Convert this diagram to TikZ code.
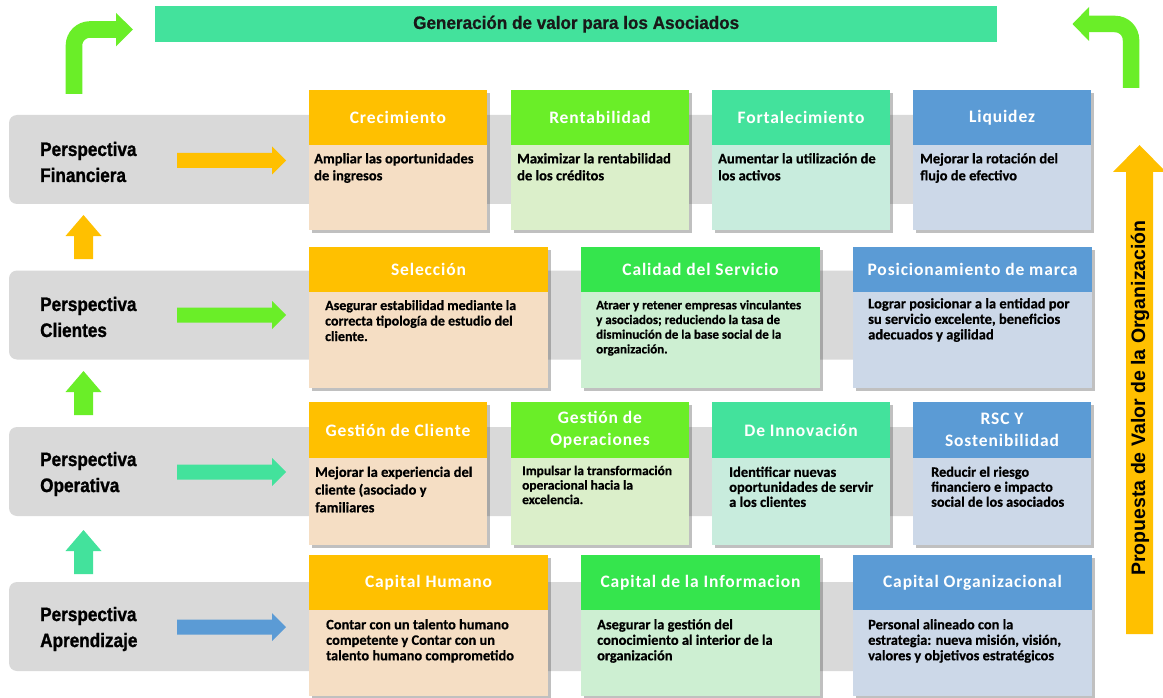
\documentclass[tikz,border=0pt]{standalone}
\usepackage{fontspec}
\setmainfont{Carlito}
\newfontfamily\cardfont[LetterSpace=5]{Carlito}
\newfontfamily\bodyfont[FakeBold=0.6]{Carlito}
\newfontfamily\persfont[FakeStretch=0.88, FakeBold=1.2]{Liberation Sans}
\newfontfamily\bannerfont[FakeStretch=0.95, FakeBold=0.8]{Liberation Sans}
\newfontfamily\arialfont{Liberation Sans}
\usetikzlibrary{shadows}

\definecolor{cYel}{HTML}{FFC000}
\definecolor{cLime}{HTML}{6AEE28}
\definecolor{cGrn}{HTML}{35E54D}
\definecolor{cTeal}{HTML}{43E29C}
\definecolor{cBlue}{HTML}{5B9BD5}
\definecolor{bPeach}{HTML}{F5DEC4}
\definecolor{bLime}{HTML}{DBEFCA}
\definecolor{bGrn}{HTML}{CDEFD2}
\definecolor{bTeal}{HTML}{C8ECDD}
\definecolor{bBlue}{HTML}{CCD8E8}
\definecolor{bandgray}{HTML}{D9D9D9}

\tikzset{
  bandbox/.style={fill=bandgray, rounded corners=8, anchor=north west,
    inner sep=0, outer sep=0, minimum width=1079, minimum height=89},
  persp/.style={anchor=west, align=left, inner sep=0,
    font={\fontsize{19.5}{26}\persfont\bfseries}, text=black},
  cardframe/.style={anchor=north west, inner sep=0, outer sep=0,
    drop shadow={shadow xshift=2.5pt, shadow yshift=-3pt, opacity=.35, fill=black!70}},
  cardhead/.style={anchor=north west, inner sep=0, outer sep=0, text=white,
    align=center, font={\fontsize{17.5}{22}\cardfont\bfseries}},
  desc/.style 2 args={anchor=north west, inner sep=0, align=left, text=black,
    font={\fontsize{#1}{#2}\bodyfont\bfseries}},
}

% card: name, x, top, width, header height, total height, header colour, body colour, title
\newcommand\card[9]{%
  \node[cardframe, fill=#8, minimum width=#4, minimum height=#6] (#1) at (#2,#3) {};
  \node[cardhead, fill=#7, minimum width=#4, minimum height=#5] (#1h) at (#2,#3) {#9};
}
% horizontal block arrow in a perspective band, centred on y=#2
\newcommand\rowarrow[2]{%
  \fill[#1] (177,{#2-7.5}) -- (272,{#2-7.5}) -- (272,{#2-14}) -- (286,#2)
    -- (272,{#2+14}) -- (272,{#2+7.5}) -- (177,{#2+7.5}) -- cycle;
}
% upward block arrow between bands, tip at y=#2
\newcommand\uparw[2]{%
  \fill[#1] (74,{#2+44}) -- (74,{#2+21}) -- (65.5,{#2+21}) -- (83.5,#2)
    -- (101.5,{#2+21}) -- (93,{#2+21}) -- (93,{#2+44}) -- cycle;
}

\begin{document}
\begin{tikzpicture}[x=1pt, y=-1pt]
\useasboundingbox[fill=white] (0,0) rectangle (1163,698);

% top banner
\node[fill=cTeal, anchor=north west, inner sep=0, minimum width=842, minimum height=36,
  font={\fontsize{18}{20}\bannerfont\bfseries}, text=black!90] (top) at (155,6)
  {Generación de valor para los Asociados};

% bent arrows towards the banner
\coordinate (la0) at (74,94);
\coordinate (la1) at (74,29.5);
\coordinate (la2) at (117,29.5);
\draw[line width=16.6, cLime, rounded corners=16] (la0) -- (la1) -- (la2);
\fill[cLime] (116,13) -- (133,29.5) -- (116,46.5) -- cycle;
\coordinate (ra0) at (1131,88);
\coordinate (ra1) at (1131,24);
\coordinate (ra2) at (1088,24);
\draw[line width=16.5, cLime, rounded corners=16] (ra0) -- (ra1) -- (ra2);
\fill[cLime] (1089,7) -- (1072.5,24) -- (1089,41) -- cycle;

% perspective bands
\node[bandbox] (p1) at (9,115) {};
\node[bandbox] (p2) at (9,270.5) {};
\node[bandbox] (p3) at (9,427) {};
\node[bandbox] (p4) at (9,582) {};

\node[persp] (l1) at (40,162) {Perspectiva\\Financiera};
\node[persp] (l2) at (40,317) {Perspectiva\\Clientes};
\node[persp] (l3) at (40,474) {Perspectiva\\Operativa};
\node[persp] (l4) at (40,629) {Perspectiva\\Aprendizaje};

\rowarrow{cYel}{160.5}
\rowarrow{cLime}{315}
\rowarrow{cTeal}{472}
\rowarrow{cBlue}{627}

\uparw{cYel}{215}
\uparw{cLime}{371}
\uparw{cTeal}{530}

% value proposition arrow
\fill[cYel] (1126,634) -- (1126,172) -- (1113,172) -- (1139.5,145) -- (1166,172)
  -- (1153,172) -- (1153,634) -- cycle;
\node[rotate=90, inner sep=0, font={\fontsize{19.5}{22}\arialfont\bfseries}, text=black]
  (vp) at (1140,398) {Propuesta de Valor de la Organización};

% financial perspective
\card{c11}{309}{90}{178}{55}{140}{cYel}{bPeach}{Crecimiento}
\card{c12}{511}{90}{178}{55}{140}{cLime}{bLime}{Rentabilidad}
\card{c13}{712}{90}{178}{55}{140}{cTeal}{bTeal}{Fortalecimiento}
\card{c14}{913}{90}{178}{55}{140}{cBlue}{bBlue}{Liquidez}
\node[desc={14.5}{17}] (t11) at (314,153) {Ampliar las oportunidades\\de ingresos};
\node[desc={14.5}{17}] (t12) at (517,153) {Maximizar la rentabilidad\\de los créditos};
\node[desc={14.5}{17}] (t13) at (718,153) {Aumentar la utilización de\\los activos};
\node[desc={14.5}{17}] (t14) at (920,153) {Mejorar la rotación del\\flujo de efectivo};

% customer perspective
\card{c21}{309}{247}{239}{45}{141}{cYel}{bPeach}{Selección}
\card{c22}{581}{247}{239}{45}{141}{cGrn}{bGrn}{Calidad del Servicio}
\card{c23}{853}{247}{239}{45}{141}{cBlue}{bBlue}{Posicionamiento de marca}
\node[desc={14}{15.5}] (t21) at (325,300) {Asegurar estabilidad mediante la\\correcta tipología de estudio del\\cliente.};
\node[desc={13}{14.7}] (t22) at (596,300) {Atraer y retener empresas vinculantes\\y asociados; reduciendo la tasa de\\disminución de la base social de la\\organización.};
\node[desc={14.5}{15.5}] (t23) at (868,298) {Lograr posicionar a la entidad por\\su servicio excelente, beneficios\\adecuados y agilidad};

% operational perspective
\card{c31}{309}{402}{178}{56}{143}{cYel}{bPeach}{Gestión de Cliente}
\card{c32}{511}{402}{178}{56}{143}{cLime}{bLime}{Gestión de\\Operaciones}
\card{c33}{712}{402}{178}{56}{143}{cTeal}{bTeal}{De Innovación}
\card{c34}{913}{402}{178}{56}{143}{cBlue}{bBlue}{RSC Y\\Sostenibilidad}
\node[desc={14.5}{17.7}] (t31) at (315,466.5) {Mejorar la experiencia del\\cliente (asociado y\\familiares};
\node[desc={13.4}{14.5}] (t32) at (522,465.5) {Impulsar la transformación\\operacional hacia la\\excelencia.};
\node[desc={14.5}{15}] (t33) at (729,466.5) {Identificar nuevas\\oportunidades de servir\\a los clientes};
\node[desc={14.3}{15}] (t34) at (931,466.5) {Reducir el riesgo\\financiero e impacto\\social de los asociados};

% learning perspective
\card{c41}{309}{555}{239}{55}{141}{cYel}{bPeach}{Capital Humano}
\card{c42}{581}{555}{239}{55}{141}{cGrn}{bGrn}{Capital de la Informacion}
\card{c43}{853}{555}{239}{55}{141}{cBlue}{bBlue}{Capital Organizacional}
\node[desc={14.4}{15.5}] (t41) at (326,619) {Contar con un talento humano\\competente y Contar con un\\talento humano comprometido};
\node[desc={14.4}{15.5}] (t42) at (597,619) {Asegurar la gestión del\\conocimiento al interior de la\\organización};
\node[desc={14.4}{15.5}] (t43) at (868,619) {Personal alineado con la\\estrategia: nueva misión, visión,\\valores y objetivos estratégicos};
\end{tikzpicture}
\end{document}
